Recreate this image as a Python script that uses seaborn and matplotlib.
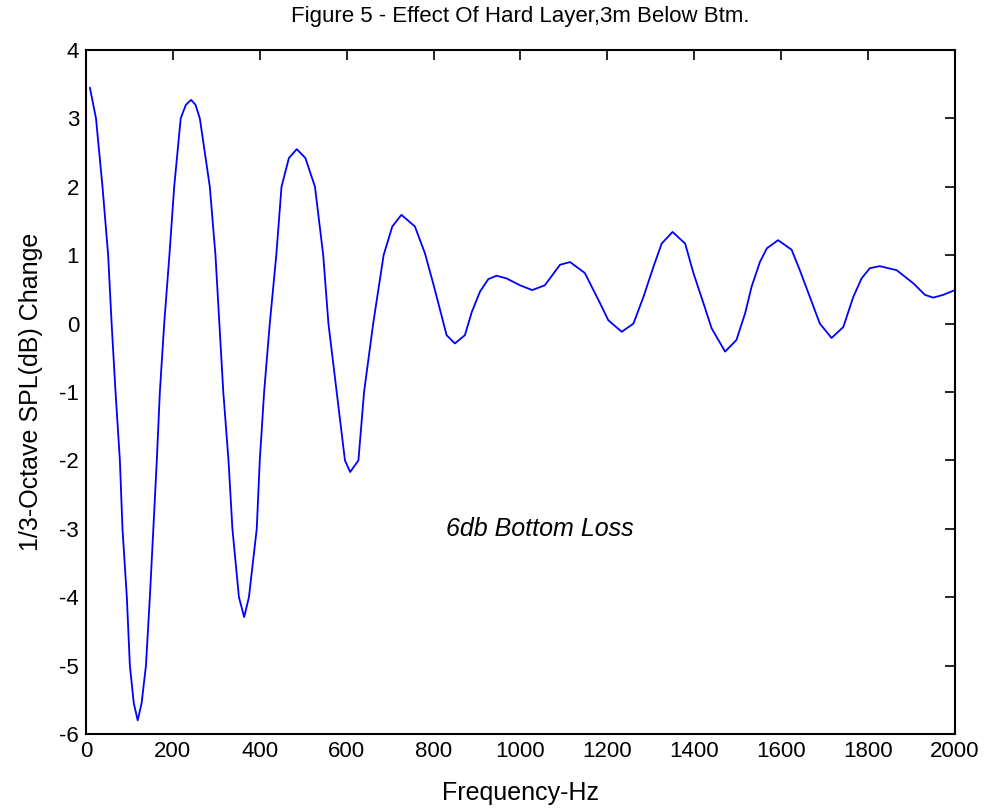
import numpy as np
import pandas as pd
import matplotlib
matplotlib.use('Agg')
import matplotlib.pyplot as plt
import seaborn as sns

# values
freq_hz = [9, 23, 38, 51, 59, 68, 78, 84, 94, 101, 110, 119, 128, 138, 147, 155, 163,
           170, 180, 192, 203, 218, 230, 242, 252, 262, 285, 298, 307, 316, 328, 337,
           352, 364, 375, 393, 400, 410, 423, 438, 450, 467, 485, 505, 527, 546, 558,
           577, 596, 608, 627, 640, 661, 685, 705, 726, 757, 780, 799, 815, 830, 849,
           872, 888, 907, 926, 945, 968, 999, 1027, 1056, 1091, 1114, 1148, 1183, 1202,
           1233, 1260, 1283, 1306, 1325, 1350, 1379, 1398, 1421, 1440, 1471, 1497, 1517,
           1532, 1551, 1567, 1593, 1624, 1643, 1666, 1689, 1716, 1743, 1766, 1785, 1804,
           1827, 1866, 1904, 1931, 1950, 1973, 2000]
spl_change = [3.45, 3.0, 2.0, 1.0, 0.0, -1.0, -2.0, -3.0, -4.0, -5.0, -5.55, -5.80, -5.55,
              -5.0, -4.0, -3.0, -2.0, -1.0, 0.0, 1.0, 2.0, 3.0, 3.2, 3.27, 3.2, 3.0, 2.0,
              1.0, 0.0, -1.0, -2.0, -3.0, -4.0, -4.29, -4.0, -3.0, -2.0, -1.0, 0.0, 1.0,
              2.0, 2.42, 2.55, 2.42, 2.0, 1.0, 0.0, -1.0, -2.0, -2.17, -2.0, -1.0, 0.0,
              1.0, 1.42, 1.59, 1.42, 1.03, 0.59, 0.20, -0.17, -0.29, -0.17, 0.17, 0.47,
              0.65, 0.70, 0.66, 0.56, 0.49, 0.56, 0.86, 0.90, 0.74, 0.30, 0.05, -0.12, 0.0,
              0.39, 0.83, 1.17, 1.34, 1.17, 0.74, 0.30, -0.07, -0.41, -0.24, 0.15, 0.54,
              0.90, 1.10, 1.22, 1.08, 0.78, 0.39, 0.0, -0.21, -0.05, 0.39, 0.66, 0.81,
              0.84, 0.78, 0.59, 0.42, 0.38, 0.42, 0.49]

x_ticks = list(range(0, 2001, 200))
y_ticks = list(range(-6, 5))

df = pd.DataFrame({'Frequency': freq_hz, 'SPL': spl_change})

sns.set_style('white')
plt.rcParams['font.family'] = ['Liberation Sans', 'DejaVu Sans']
plt.rcParams['axes.unicode_minus'] = False
plt.rcParams['text.color'] = 'black'
plt.rcParams['axes.labelcolor'] = 'black'

fig = plt.figure(figsize=(9.85, 8.10), dpi=100)
ax = fig.add_axes([0.0873, 0.0938, 0.8822, 0.8445])

sns.lineplot(data=df, x='Frequency', y='SPL', ax=ax, color='#0000ff',
             linewidth=1.3, sort=False, estimator=None)

ax.set_xlim(0, 2000)
ax.set_ylim(-6, 4)
ax.set_xticks(x_ticks)
ax.set_yticks(y_ticks)
ax.tick_params(direction='in', length=7, width=1.2, labelsize=16, colors='black',
               top=True, right=True, pad=5)
for s in ax.spines.values():
    s.set_color('black')
    s.set_linewidth(1.5)

ax.set_xlabel('Frequency-Hz', fontsize=18, labelpad=14)
ax.set_ylabel('1/3-Octave SPL(dB) Change', fontsize=18, labelpad=12)
ax.set_title('Figure 5 - Effect Of Hard Layer,3m Below Btm.', fontsize=16, pad=20)
ax.text(1045, -3.0, '6db Bottom Loss', fontsize=18, style='italic',
        ha='center', va='center')

fig.savefig('out.png', dpi=100)
